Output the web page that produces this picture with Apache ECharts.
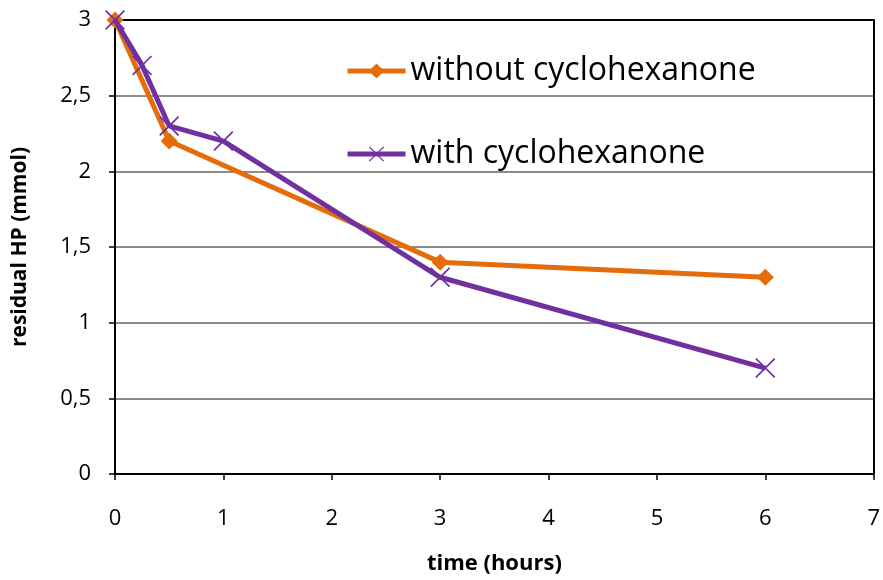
<!DOCTYPE html>
<html>
<head>
<meta charset="utf-8">
<script src="https://cdn.jsdelivr.net/npm/echarts@6/dist/echarts.min.js"></script>
<style>
  html, body { margin: 0; padding: 0; background: #fff; }
  #chart { width: 883px; height: 580px; }
</style>
</head>
<body>
<div id="chart"></div>
<script>
// Residual HP over time, with and without cyclohexanone
const timeWithout = [0, 0.5, 3, 6];
const hpWithout = [3, 2.2, 1.4, 1.3];
const timeWith = [0, 0.25, 0.5, 1, 3, 6];
const hpWith = [3, 2.7, 2.3, 2.2, 1.3, 0.7];
const seriesNames = ['without cyclohexanone', 'with cyclohexanone'];
const xTicks = [0, 1, 2, 3, 4, 5, 6, 7];
const yTicks = [0, 0.5, 1, 1.5, 2, 2.5, 3];

const FONT = '"Open Sans", "Liberation Sans", sans-serif';
const ORANGE = '#E46C0A';
const PURPLE = '#7030A0';
// X-shaped marker drawn as a filled outline
const crossPath = 'path://M0,0.6L0.6,0L10,9.4L9.4,10Z M9.4,0L10,0.6L0.6,10L0,9.4Z';

const pairs = (xs, ys) => xs.map((x, i) => [x, ys[i]]);

const xMin = xTicks[0], xMax = xTicks[xTicks.length - 1];
const yMin = yTicks[0], yMax = yTicks[yTicks.length - 1];

// Gridlines are grey, the top one is part of the black frame
const splitColors = yTicks.map((v, i) => (i === yTicks.length - 1 ? '#000' : '#8c8c8c'));

const chart = echarts.init(document.getElementById('chart'), null, { renderer: 'canvas' });
chart.setOption({
  animation: false,
  backgroundColor: '#fff',
  grid: { left: 115, right: 7, top: 20, bottom: 100 },
  legend: {
    orient: 'vertical',
    left: 340, top: 50,
    itemGap: 51,
    itemWidth: 58, itemHeight: 19,
    lineStyle: { width: 5 },
    textStyle: { fontFamily: FONT, fontSize: 32, color: '#000' },
    data: seriesNames
  },
  xAxis: [
    {
      type: 'value',
      min: xMin, max: xMax, interval: 1,
      name: 'time (hours)', nameLocation: 'middle', nameGap: 79,
      nameTextStyle: { fontFamily: FONT, fontSize: 22, fontWeight: 'bold', color: '#000' },
      axisLine: { show: true, lineStyle: { color: '#000', width: 2 } },
      axisTick: { show: true, length: 6, lineStyle: { color: '#000', width: 1.5 } },
      axisLabel: { fontFamily: FONT, fontSize: 22, color: '#000', margin: 34 },
      splitLine: { show: false }
    },
    {
      type: 'value', position: 'top',
      min: xMin, max: xMax, interval: 1,
      axisLine: { show: true, onZero: false, lineStyle: { color: '#000', width: 2 } },
      axisTick: { show: false }, axisLabel: { show: false }, splitLine: { show: false }
    }
  ],
  yAxis: [
    {
      type: 'value',
      min: yMin, max: yMax, interval: 0.5,
      name: 'residual HP (mmol)', nameLocation: 'middle', nameGap: 84, nameRotate: 90,
      nameTextStyle: { fontFamily: FONT, fontSize: 21, fontWeight: 'bold', color: '#000' },
      axisLine: { show: true, lineStyle: { color: '#000', width: 2 } },
      axisTick: { show: true, length: 6, lineStyle: { color: '#000', width: 1.5 } },
      axisLabel: { fontFamily: FONT, fontSize: 22, color: '#000', margin: 24,
        formatter: v => String(v).replace('.', ',') },
      splitLine: { show: true, lineStyle: { color: splitColors, width: 2 } }
    },
    {
      type: 'value', position: 'right',
      min: yMin, max: yMax, interval: 0.5,
      axisLine: { show: true, onZero: false, lineStyle: { color: '#000', width: 2 } },
      axisTick: { show: false }, axisLabel: { show: false }, splitLine: { show: false }
    }
  ],
  series: [
    {
      name: seriesNames[0], type: 'line',
      data: pairs(timeWithout, hpWithout),
      symbol: 'diamond', symbolSize: 17,
      lineStyle: { color: ORANGE, width: 5 },
      itemStyle: { color: ORANGE },
      z: 2
    },
    {
      name: seriesNames[1], type: 'line',
      data: pairs(timeWith, hpWith),
      symbol: crossPath, symbolSize: 20,
      lineStyle: { color: PURPLE, width: 5 },
      itemStyle: { color: PURPLE },
      z: 3
    }
  ]
});
</script>
</body>
</html>
